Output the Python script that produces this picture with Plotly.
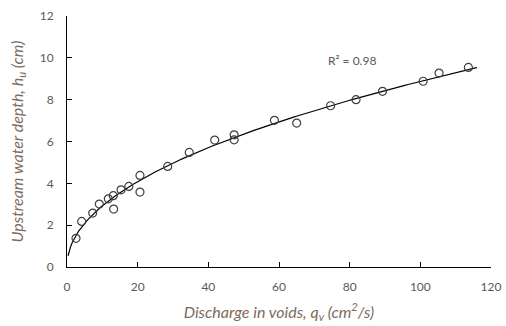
import numpy as np
import plotly.graph_objects as go

qv = [2.55, 4.15, 7.27, 9.15, 11.7, 13.1, 13.2, 15.3, 17.5, 20.65, 20.65, 28.5,
      34.6, 41.8, 47.3, 47.3, 58.7, 65.0, 74.6, 81.8, 89.3, 100.8, 105.3, 113.6]
hu = [1.37, 2.18, 2.58, 3.01, 3.26, 3.41, 2.77, 3.69, 3.85, 4.38, 3.58, 4.81,
      5.48, 6.07, 6.32, 6.08, 7.01, 6.88, 7.71, 8.00, 8.40, 8.88, 9.27, 9.54]

# power trendline fitted to the data (least squares in log space)
b, loga = np.polyfit(np.log(qv), np.log(hu), 1)
a = np.exp(loga)
xf = np.linspace(0.3, 116, 300)
yf = a * xf ** b

tick_col = "#595959"
title_col = "#7d6a5c"
font = "Lato"

fig = go.Figure()
fig.add_trace(go.Scatter(x=xf, y=yf, mode="lines",
                         line=dict(color="black", width=1.2), hoverinfo="skip"))
fig.add_trace(go.Scatter(x=qv, y=hu, mode="markers",
                         marker=dict(symbol="circle-open", size=8,
                                     color="#404040", line=dict(width=1.2))))
fig.add_annotation(x=80.7, y=9.86, text="R² = 0.98", showarrow=False,
                   font=dict(family=font, size=12, color=tick_col))

fig.update_layout(
    width=506, height=326, showlegend=False,
    margin=dict(l=67, r=15, t=16, b=59),
    paper_bgcolor="white", plot_bgcolor="white",
    font=dict(family=font, size=12, color=tick_col),
    xaxis=dict(range=[0, 120], dtick=20, showgrid=False, zeroline=False,
               showline=True, linecolor="black", linewidth=1,
               ticks="inside", ticklen=5, tickcolor="black",
               ticklabelstandoff=9, automargin=False,
               tickfont=dict(family=font, size=12, color=tick_col),
               title=dict(text="Discharge in voids, q<sub>v</sub> (cm<sup>2</sup>/s)",
                          font=dict(family=font, size=16, color=title_col,
                                    style="italic"), standoff=13)),
    yaxis=dict(range=[0, 12], dtick=2, showgrid=False, zeroline=False,
               showline=True, linecolor="black", linewidth=1,
               ticks="inside", ticklen=5, tickcolor="black",
               ticklabelstandoff=10, automargin=False,
               tickfont=dict(family=font, size=12, color=tick_col),
               title=dict(text="Upstream water depth, h<sub>u</sub> (cm)",
                          font=dict(family=font, size=16, color=title_col,
                                    style="italic"), standoff=12)),
)
fig.write_html("out.html")
